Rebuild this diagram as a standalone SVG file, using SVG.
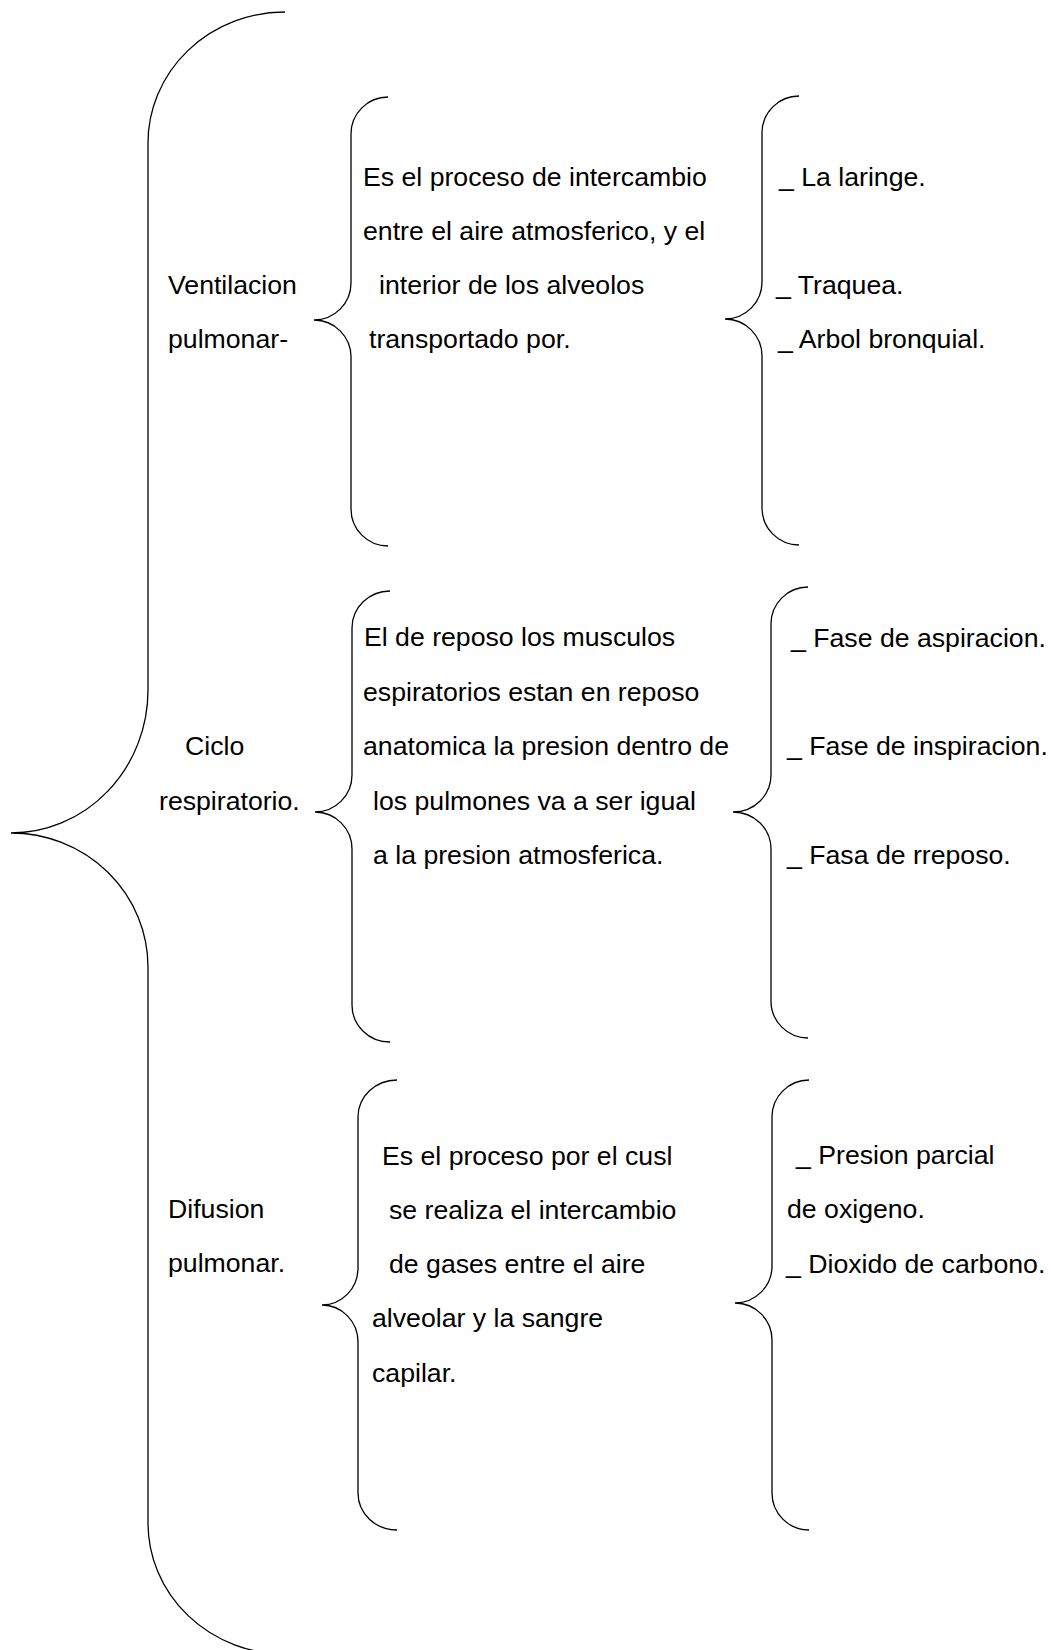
<svg xmlns="http://www.w3.org/2000/svg" width="1051" height="1650" viewBox="0 0 1051 1650">
<style>
.t{font-family:"Liberation Sans",Arial,sans-serif;font-size:26.67px;fill:#000}
.b{fill:none;stroke:#000;stroke-width:1.3}
</style>
<rect x="0" y="0" width="1051" height="1650" fill="#fff"/>
<g id="connectors">
<path class="b" d="M285,12 A137,131 0 0 0 148,143 L148,690 A137,143 0 0 1 11,833 A137,134 0 0 1 148,967 L148,1523 A137,131 0 0 0 285,1654"/>
<path class="b" d="M388,97 A37,37 0 0 0 351,134 L351,283 A37,37 0 0 1 314,320 A37,37 0 0 1 351,357 L351,509 A37,37 0 0 0 388,546"/>
<path class="b" d="M799,96 A37,37 0 0 0 762,133 L762,282 A37,37 0 0 1 725,319 A37,37 0 0 1 762,356 L762,508 A37,37 0 0 0 799,545"/>
<path class="b" d="M390,591 A38,37 0 0 0 352,628 L352,775 A37,37 0 0 1 315,812 A37,37 0 0 1 352,849 L352,1005 A38,37 0 0 0 390,1042"/>
<path class="b" d="M808,587 A37,37 0 0 0 771,624 L771,775 A38,37 0 0 1 733,812 A38,37 0 0 1 771,849 L771,1001 A37,37 0 0 0 808,1038"/>
<path class="b" d="M397,1080 A39,37 0 0 0 358,1117 L358,1268 A36,37 0 0 1 322,1305 A36,37 0 0 1 358,1342 L358,1493 A39,37 0 0 0 397,1530"/>
<path class="b" d="M809,1080 A37,37 0 0 0 772,1117 L772,1266 A37,37 0 0 1 735,1303 A37,37 0 0 1 772,1340 L772,1493 A37,37 0 0 0 809,1530"/>
</g>
<g id="ventilacion">
<text class="t" x="168" y="294">Ventilacion</text>
<text class="t" x="168" y="348">pulmonar-</text>
</g>
<g id="ventilacion-def">
<text class="t" x="363" y="186">Es el proceso de intercambio</text>
<text class="t" x="363" y="240">entre el aire atmosferico, y el</text>
<text class="t" x="379" y="294">interior de los alveolos</text>
<text class="t" x="369" y="348">transportado por.</text>
</g>
<g id="ventilacion-list">
<text class="t" x="779" y="186">_ La laringe.</text>
<text class="t" x="776" y="294">_ Traquea.</text>
<text class="t" x="778" y="348">_ Arbol bronquial.</text>
</g>
<g id="ciclo">
<text class="t" x="185" y="755">Ciclo</text>
<text class="t" x="159" y="810">respiratorio.</text>
</g>
<g id="ciclo-def">
<text class="t" x="364" y="646">El de reposo los musculos</text>
<text class="t" x="363" y="701">espiratorios estan en reposo</text>
<text class="t" x="363" y="755">anatomica la presion dentro de</text>
<text class="t" x="373" y="810">los pulmones va a ser igual</text>
<text class="t" x="373" y="864">a la presion atmosferica.</text>
</g>
<g id="ciclo-list">
<text class="t" x="791" y="647">_ Fase de aspiracion.</text>
<text class="t" x="787" y="755">_ Fase de inspiracion.</text>
<text class="t" x="787" y="864">_ Fasa de rreposo.</text>
</g>
<g id="difusion">
<text class="t" x="168" y="1218">Difusion</text>
<text class="t" x="168" y="1272">pulmonar.</text>
</g>
<g id="difusion-def">
<text class="t" x="382" y="1165">Es el proceso por el cusl</text>
<text class="t" x="389" y="1219">se realiza el intercambio</text>
<text class="t" x="389" y="1273">de gases entre el aire</text>
<text class="t" x="372" y="1327">alveolar y la sangre</text>
<text class="t" x="372" y="1382">capilar.</text>
</g>
<g id="difusion-list">
<text class="t" x="796" y="1164">_ Presion parcial</text>
<text class="t" x="787" y="1218">de oxigeno.</text>
<text class="t" x="786" y="1273">_ Dioxido de carbono.</text>
</g>
</svg>
